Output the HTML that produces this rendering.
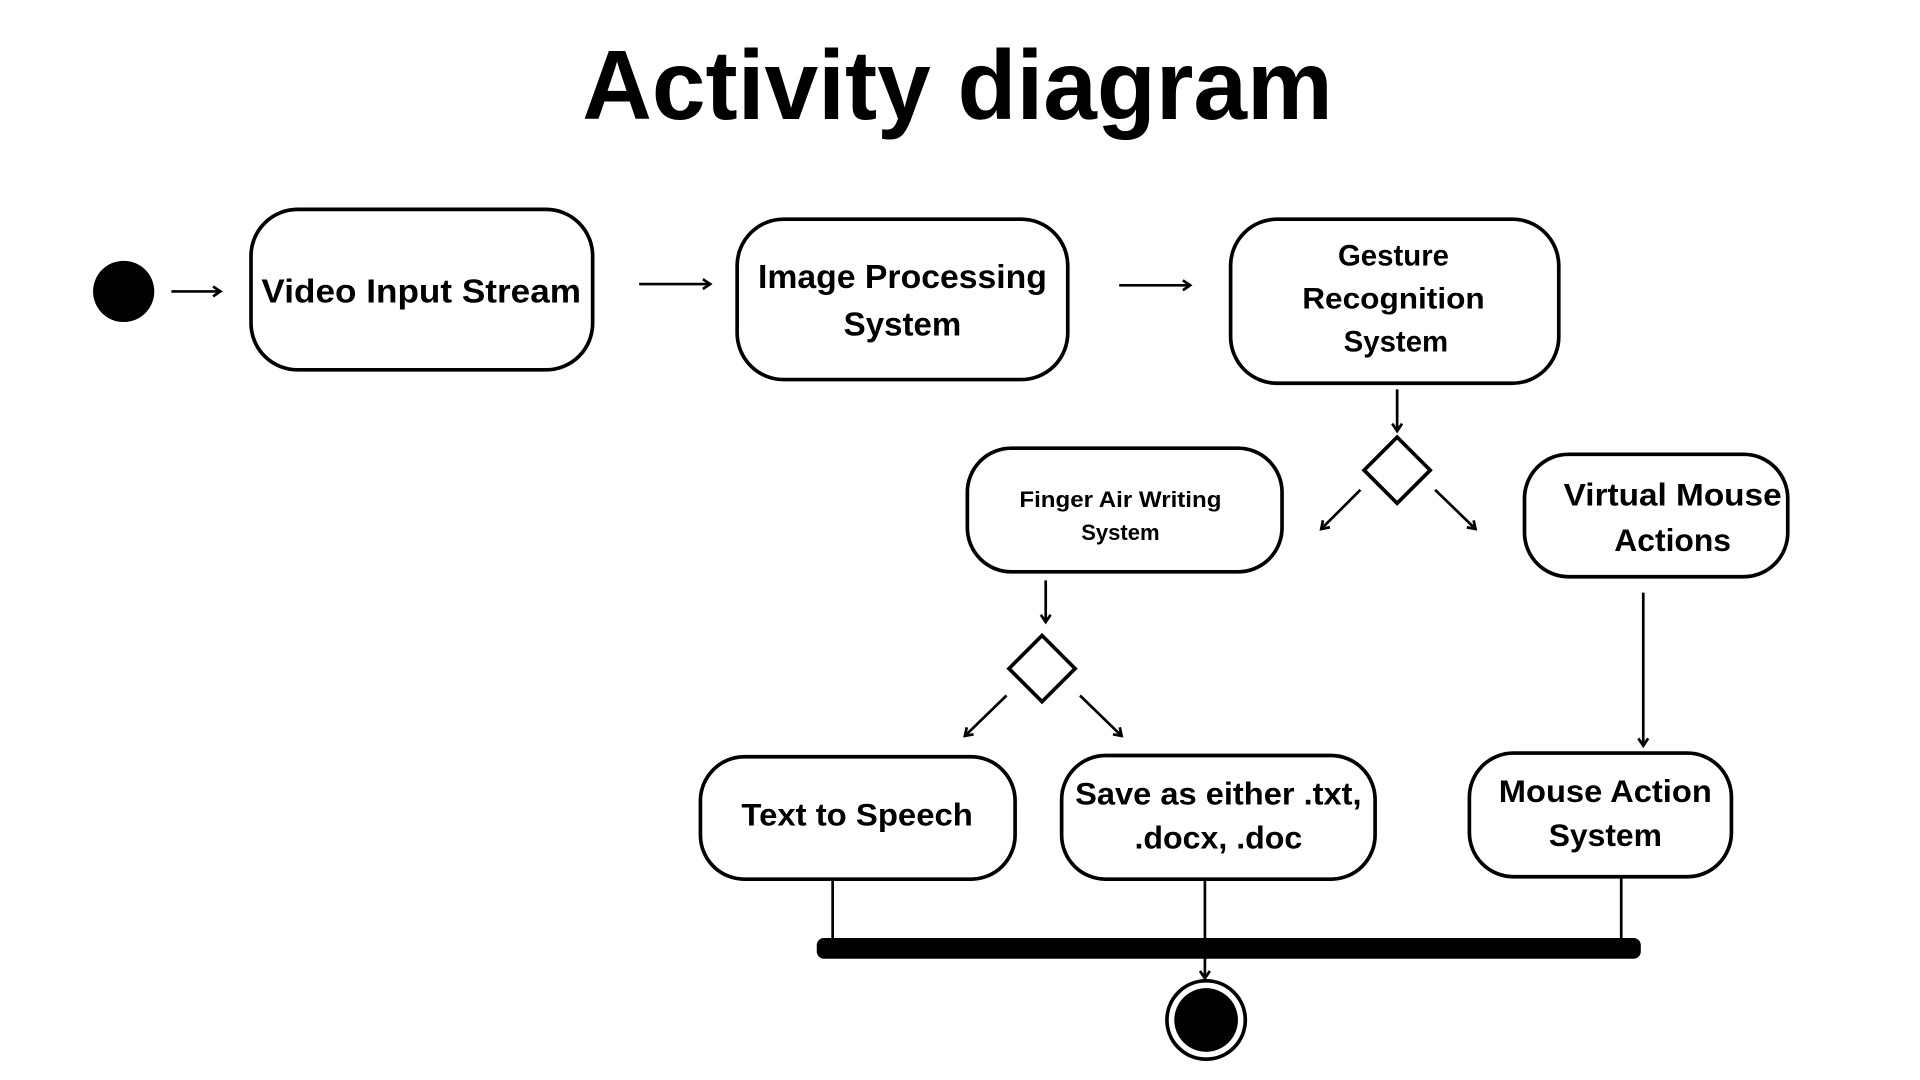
<!DOCTYPE html>
<html><head><meta charset="utf-8"><style>
html,body{margin:0;padding:0;background:#fff;width:1920px;height:1080px;overflow:hidden}
svg{display:block}
text{font-family:"Liberation Sans",sans-serif;font-weight:bold;fill:#000;text-anchor:middle}
</style></head><body>
<svg width="1920" height="1080" viewBox="0 0 1568 882" preserveAspectRatio="none">
<defs>
<marker id="a" markerWidth="10" markerHeight="10" refX="8" refY="5" orient="auto" markerUnits="userSpaceOnUse">
<path d="M2,1 L8,5 L2,9" fill="none" stroke="#000" stroke-width="2.2"/>
</marker>
</defs>
<text x="782" y="97" font-size="80" textLength="613" lengthAdjust="spacingAndGlyphs">Activity diagram</text>

<g fill="none" stroke="#000" stroke-width="3">
<rect x="205" y="171" width="279" height="131" rx="38"/>
<rect x="602" y="179" width="270" height="131" rx="38"/>
<rect x="1005" y="179" width="268" height="134" rx="38"/>
<rect x="790" y="366" width="257" height="101" rx="36"/>
<rect x="1245" y="371" width="215" height="100" rx="36"/>
<rect x="572" y="618" width="257" height="100" rx="36"/>
<rect x="867" y="617" width="256" height="101" rx="36"/>
<rect x="1200" y="615" width="214" height="101" rx="36"/>
<path d="M1141,357 L1168,384 L1141,411 L1114,384 Z"/>
<path d="M851,519 L878,546 L851,573 L824,546 Z"/>
</g>

<g stroke="#000" stroke-width="2.2" fill="none" marker-end="url(#a)">
<line x1="140" y1="238" x2="180" y2="238"/>
<line x1="522" y1="232" x2="580" y2="232"/>
<line x1="914" y1="233" x2="972" y2="233"/>
<line x1="1141" y1="318" x2="1141" y2="352"/>
<line x1="1111" y1="400" x2="1079" y2="432"/>
<line x1="1172" y1="400" x2="1205" y2="432"/>
<line x1="854" y1="474" x2="854" y2="508"/>
<line x1="822" y1="568" x2="788" y2="601"/>
<line x1="882" y1="568" x2="916" y2="601"/>
<line x1="1342" y1="484" x2="1342" y2="609"/>
<line x1="984" y1="718" x2="984" y2="799"/>
</g>
<g stroke="#000" stroke-width="2.2">
<line x1="680" y1="718" x2="680" y2="768"/>
<line x1="1324" y1="716" x2="1324" y2="768"/>
</g>
<rect x="667" y="766" width="673" height="17" rx="6" fill="#000"/>
<circle cx="101" cy="238" r="25" fill="#000"/>
<circle cx="985" cy="833" r="32" fill="#fff" stroke="#000" stroke-width="3"/>
<circle cx="985" cy="833" r="26" fill="#000"/>

<text x="344" y="247" font-size="27" textLength="261" lengthAdjust="spacingAndGlyphs">Video Input Stream</text>
<text x="737" y="235" font-size="27" textLength="236" lengthAdjust="spacingAndGlyphs">Image Processing</text>
<text x="737" y="274" font-size="27">System</text>
<text x="1138" y="217" font-size="24">Gesture</text>
<text x="1138" y="252" font-size="24" textLength="149" lengthAdjust="spacingAndGlyphs">Recognition</text>
<text x="1140" y="287" font-size="24">System</text>
<text x="915" y="414" font-size="18" textLength="165" lengthAdjust="spacingAndGlyphs">Finger Air Writing</text>
<text x="915" y="441" font-size="18">System</text>
<text x="1366" y="413" font-size="26" textLength="178" lengthAdjust="spacingAndGlyphs">Virtual Mouse</text>
<text x="1366" y="450" font-size="26">Actions</text>
<text x="700" y="674" font-size="26" textLength="189" lengthAdjust="spacingAndGlyphs">Text to Speech</text>
<text x="995" y="657" font-size="26" textLength="234" lengthAdjust="spacingAndGlyphs">Save as either .txt,</text>
<text x="995" y="693" font-size="26" textLength="137" lengthAdjust="spacingAndGlyphs">.docx, .doc</text>
<text x="1311" y="655" font-size="26" textLength="174" lengthAdjust="spacingAndGlyphs">Mouse Action</text>
<text x="1311" y="691" font-size="26">System</text>
</svg>
</body></html>
